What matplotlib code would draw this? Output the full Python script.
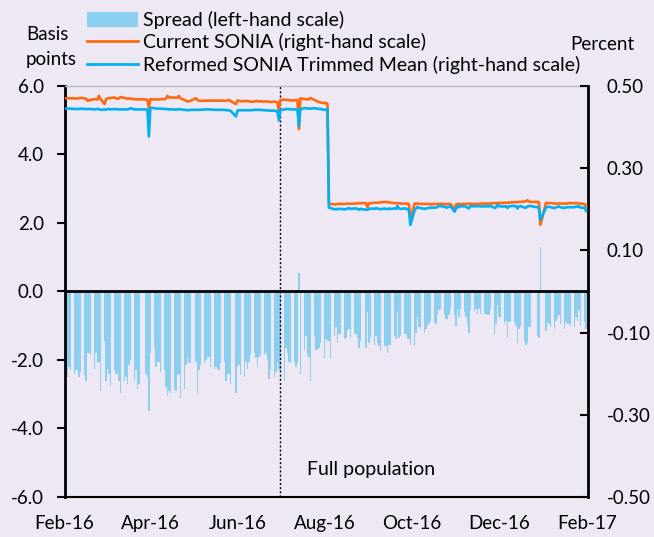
import numpy as np
import pandas as pd
import matplotlib
matplotlib.use("Agg")
import matplotlib.pyplot as plt
import matplotlib.dates as mdates
from matplotlib.patches import Patch
from matplotlib.lines import Line2D

plt.rcParams['font.family'] = ['Lato', 'DejaVu Sans']

# Business days Feb-2016 .. Jan-2017 (one row = one week, None = UK bank holiday)
start_date = '2016-02-01'
end_date = '2017-01-31'

spread_bp = [
    -2.2, -2.4, -2.5, -2.2, -2.3,
    -2.4, -2.3, -2.3, -2.5, -2.35,
    -2.45, -2.6, -1.8, -1.8, -1.85,
    -2.25, -1.8, -2.1, -2.05, -2.9,
    -1.45, -2.6, -2.25, -2.4, -2.75,
    -2.3, -2.4, -2.4, -2.6, -2.95,
    -2.6, -2.5, -2.7, -2.15, -2.0,
    -2.6, -2.3, -2.85, -2.7, None,
    None, -2.4, -2.5, -3.5, -1.8,
    -1.65, -2.2, -2.05, -2.05, -2.35,
    -2.3, -2.8, -3.05, -2.9, -2.95,
    -2.85, -2.9, -2.45, -2.4, -3.1,
    -2.85, -2.15, -1.9, -2.1, -2.1,
    None, -2.05, -3.0, -2.3, -2.15,
    -2.1, -2.0, -1.9, -1.9, -2.2,
    -2.25, -2.2, -2.25, -2.3, -2.1,
    -2.05, -2.6, -2.4, -2.4, -2.7,
    None, -2.95, -2.2, -2.15, -2.45,
    -2.5, -2.05, -2.25, -2.05, -1.85,
    -1.8, -1.95, -2.2, -1.9, -1.85,
    -1.85, -1.8, -2.0, -2.55, -2.3,
    -2.5, -2.35, -2.1, -2.3, -2.35,
    -2.6, -1.65, -1.8, -2.05, -2.1,
    -2.05, -2.2, -2.1, 0.55, -2.4,
    -1.7, -1.3, -1.85, -1.9, -2.6,
    -1.3, -1.7, -1.7, -1.65, -1.5,
    -1.95, -1.4, -1.45, -1.45, -1.95,
    -1.3, -1.05, -1.5, -1.25, -1.25,
    -1.4, -1.35, -1.15, -1.1, -1.35,
    -1.25, -1.25, -1.35, -1.65, -1.45,
    None, -1.65, -0.6, -1.5, -1.35,
    -1.55, -1.3, -1.5, -1.6, -1.75,
    -1.6, -1.6, -1.8, -1.55, -1.55,
    -1.3, -1.4, -0.6, -1.35, -1.3,
    -1.25, -1.25, -1.4, -1.4, -1.55,
    -1.6, -1.2, -0.75, -1.05, -1.1,
    -1.2, -1.1, -1.0, -0.95, -0.85,
    -0.9, -0.95, -0.65, -0.55, -0.5,
    -0.7, -0.8, -0.8, -0.7, -0.5,
    -0.7, -1.0, -0.5, -0.75, -0.5,
    -0.6, -0.75, -0.95, -1.2, -0.55,
    -0.6, -0.5, -0.65, -0.5, -0.65,
    -0.65, -0.65, -0.7, -0.7, -0.5,
    -1.25, -0.95, -0.4, -0.75, -0.75,
    -0.95, -0.85, -1.35, -0.9, -0.9,
    -0.9, -1.0, -1.5, -1.1, -1.0,
    -1.45, -1.55, -1.5, -1.05, -1.05,
    None, None, -1.3, -1.35, 1.3,
    None, -1.15, -0.9, -0.95, -1.05,
    -1.1, -0.85, -0.75, -0.7, -0.95,
    -1.1, -0.9, -0.95, -0.95, -1.0,
    -1.05, -0.75, -0.85, -0.55, -1.0,
    -0.9, -1.1,
]

current_sonia = [
    .470, .470, .471, .470, .470,
    .470, .469, .470, .470, .471,
    .470, .469, .464, .465, .466,
    .468, .468, .467, .476, .469,
    .456, .468, .470, .470, .471,
    .472, .470, .469, .470, .473,
    .471, .470, .469, .470, .469,
    .468, .468, .467, .468, None,
    None, .467, .466, .446, .468,
    .467, .468, .467, .467, .468,
    .468, .470, .476, .472, .472,
    .472, .471, .472, .476, .470,
    .466, .464, .462, .463, .464,
    None, .470, .466, .464, .464,
    .464, .465, .464, .464, .465,
    .464, .465, .464, .464, .465,
    .464, .464, .465, .466, .464,
    None, .456, .465, .464, .463,
    .463, .464, .463, .463, .462,
    .462, .464, .463, .462, .463,
    .462, .463, .462, .462, .461,
    .462, .461, .460, .442, .466,
    .467, .466, .466, .466, .465,
    .465, .466, .466, .395, .470,
    .468, .468, .467, .468, .471,
    .466, .464, .462, .461, .460,
    .458, .459, .456, .214, .213,
    .212, .212, .213, .213, .213,
    .213, .213, .214, .214, .213,
    .214, .214, .214, .215, .215,
    None, .215, .205, .214, .215,
    .216, .216, .216, .216, .217,
    .218, .217, .218, .217, .216,
    .215, .215, .214, .215, .214,
    .214, .214, .213, .213, .177,
    .214, .214, .214, .214, .213,
    .213, .213, .213, .213, .212,
    .213, .213, .213, .213, .213,
    .213, .212, .213, .213, .213,
    .201, .212, .213, .212, .213,
    .213, .213, .213, .214, .213,
    .213, .213, .213, .213, .214,
    .214, .214, .214, .214, .214,
    .215, .215, .215, .216, .215,
    .216, .216, .216, .216, .217,
    .217, .218, .217, .218, .218,
    .219, .220, .222, .219, .218,
    None, None, .218, .217, .162,
    None, .216, .215, .215, .215,
    .214, .214, .214, .214, .214,
    .214, .214, .214, .215, .215,
    .215, .215, .215, .214, .214,
    .213, .207,
]

reformed_sonia = [
    .445, .445, .445, .445, .445,
    .444, .444, .444, .444, .445,
    .444, .444, .444, .444, .444,
    .443, .444, .444, .444, .442,
    .443, .442, .444, .444, .443,
    .444, .444, .443, .443, .443,
    .443, .443, .443, .444, .446,
    .443, .443, .443, .443, None,
    None, .443, .442, .377, .447,
    .446, .445, .445, .445, .445,
    .444, .444, .444, .443, .443,
    .443, .442, .443, .444, .443,
    .442, .442, .441, .441, .442,
    None, .442, .442, .442, .442,
    .443, .443, .443, .443, .443,
    .442, .442, .442, .442, .442,
    .442, .441, .441, .441, .440,
    None, .426, .440, .441, .441,
    .441, .441, .441, .441, .441,
    .442, .442, .442, .442, .442,
    .441, .441, .441, .440, .440,
    .440, .439, .439, .416, .442,
    .443, .444, .444, .444, .443,
    .443, .443, .443, .402, .444,
    .446, .446, .445, .445, .445,
    .446, .445, .445, .444, .444,
    .442, .443, .443, .204, .203,
    .200, .201, .200, .201, .201,
    .200, .200, .202, .203, .201,
    .202, .202, .201, .199, .201,
    None, .199, .199, .200, .202,
    .201, .203, .202, .201, .200,
    .202, .201, .200, .202, .201,
    .202, .201, .208, .202, .201,
    .202, .202, .200, .199, .162,
    .198, .202, .206, .204, .203,
    .201, .202, .203, .203, .204,
    .204, .204, .206, .208, .208,
    .206, .204, .205, .206, .208,
    .194, .202, .208, .205, .208,
    .207, .206, .204, .202, .208,
    .207, .208, .207, .208, .207,
    .207, .208, .207, .207, .209,
    .203, .205, .211, .208, .207,
    .207, .208, .203, .207, .208,
    .208, .208, .202, .207, .208,
    .204, .204, .207, .208, .208,
    None, None, .205, .204, .175,
    None, .204, .206, .206, .205,
    .203, .205, .206, .207, .205,
    .203, .205, .205, .205, .205,
    .205, .207, .206, .208, .204,
    .204, .196,
]

left_ticks = [6.0, 4.0, 2.0, 0.0, -2.0, -4.0, -6.0]
right_ticks = [0.50, 0.30, 0.10, -0.10, -0.30, -0.50]
x_tick_dates = ['2016-02-01', '2016-04-01', '2016-06-01', '2016-08-01',
                '2016-10-01', '2016-12-01', '2017-02-01']
marker_date = '2016-07-01'

labels = ['Spread (left-hand scale)',
          'Current SONIA (right-hand scale)',
          'Reformed SONIA Trimmed Mean (right-hand scale)']

# ---------------------------------------------------------------------
dates = pd.bdate_range(start_date, end_date)
assert len(dates) == len(spread_bp) == len(current_sonia) == len(reformed_sonia)
spread = np.array([np.nan if v is None else v for v in spread_bp], float)
cur = np.array([np.nan if v is None else v for v in current_sonia], float)
ref = np.array([np.nan if v is None else v for v in reformed_sonia], float)
xd = mdates.date2num(dates.to_pydatetime())

BG = '#EEE7F4'
BAR = '#8ACFF0'
ORANGE = '#FF6A10'
BLUE = '#00B0F0'
FS = 13.5
FS_LEG = 14

fig = plt.figure(figsize=(6.54, 5.37), dpi=100, facecolor=BG)
ax = fig.add_axes([64.6 / 654, 1 - 497 / 537, (587.5 - 64.6) / 654, 411 / 537])
ax.set_facecolor(BG)

m = ~np.isnan(spread)
ax.bar(xd[m], spread[m], width=1.0, color=BAR, linewidth=0, zorder=2)
ax.axhline(0, color='black', lw=2.0, zorder=3)
ax.axvline(mdates.date2num(pd.Timestamp(marker_date)), color='black', lw=1.0,
           ls=(0, (1.5, 1.5)), zorder=4)

ax.set_ylim(-6, 6)
ax.set_yticks(left_ticks)
ax.set_yticklabels([f'{t:.1f}' for t in left_ticks])
ax.set_xlim(mdates.date2num(pd.Timestamp(x_tick_dates[0])),
            mdates.date2num(pd.Timestamp(x_tick_dates[-1])))
ax.set_xticks([mdates.date2num(pd.Timestamp(d)) for d in x_tick_dates])
ax.xaxis.set_major_formatter(mdates.DateFormatter('%b-%y'))
ax.tick_params(axis='x', length=0, pad=13, labelsize=FS)
ax.tick_params(axis='y', direction='out', length=6, width=1.5, pad=9, labelsize=FS)

ax.spines['left'].set_linewidth(2.0)
ax.spines['bottom'].set_linewidth(1.5)
ax.spines['top'].set_color('#BBBBBB')
ax.spines['top'].set_linewidth(1.0)
ax.spines['right'].set_visible(False)

ax.text(0.586, 0.068, 'Full population', transform=ax.transAxes,
        ha='center', va='center', fontsize=FS_LEG)

ax2 = ax.twinx()
mc = ~np.isnan(cur)
mr = ~np.isnan(ref)
ax2.plot(xd[mc], cur[mc], color=ORANGE, lw=1.9, zorder=3)
ax2.plot(xd[mr], ref[mr], color=BLUE, lw=1.9, zorder=4)
ax2.set_ylim(-0.5, 0.5)
ax2.set_yticks(right_ticks)
ax2.set_yticklabels([f'{t:.2f}' for t in right_ticks])
ax2.tick_params(axis='y', direction='in', length=6, width=1.5, pad=14, labelsize=FS)
ax2.spines['right'].set_linewidth(2.0)
ax2.spines['left'].set_visible(False)
ax2.spines['top'].set_visible(False)
ax2.spines['bottom'].set_visible(False)

fig.text(26 / 654, 1 - 34 / 537, 'Basis', ha='left', va='center', fontsize=FS)
fig.text(26 / 654, 1 - 60 / 537, 'points', ha='left', va='center', fontsize=FS)
fig.text(570 / 654, 1 - 45 / 537, 'Percent', ha='left', va='center', fontsize=FS)

handles = [Patch(facecolor=BAR, edgecolor='none'),
           Line2D([], [], color=ORANGE, lw=2.0),
           Line2D([], [], color=BLUE, lw=2.0)]
fig.legend(handles, labels, loc='upper left', bbox_to_anchor=(87 / 654, 1 - 11 / 537),
           frameon=False, fontsize=FS_LEG, handlelength=2.6, handleheight=0.8,
           handletextpad=0.3, labelspacing=0.22, borderpad=0, borderaxespad=0)

fig.savefig('out.png', dpi=100, facecolor=BG)
